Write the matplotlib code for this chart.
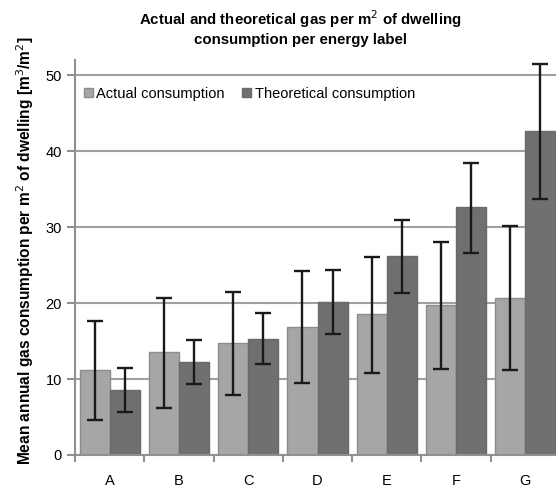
import numpy as np
import matplotlib
matplotlib.use("Agg")
import matplotlib.pyplot as plt

plt.rcParams['font.family'] = ['Liberation Sans', 'DejaVu Sans']

labels = ['A', 'B', 'C', 'D', 'E', 'F', 'G']
actual = [11.2, 13.5, 14.7, 16.9, 18.5, 19.8, 20.7]
actual_lo = [4.6, 6.2, 7.9, 9.5, 10.8, 11.3, 11.2]
actual_hi = [17.7, 20.7, 21.4, 24.2, 26.1, 28.1, 30.1]
theoretical = [8.6, 12.3, 15.3, 20.2, 26.2, 32.6, 42.7]
theo_lo = [5.7, 9.3, 12.0, 15.9, 21.3, 26.6, 33.7]
theo_hi = [11.4, 15.2, 18.7, 24.4, 30.9, 38.4, 51.5]

W, H = 556, 487
fig = plt.figure(figsize=(W / 100, H / 100), dpi=100)
# axes run slightly past the right edge, like the cropped original
ax = fig.add_axes([75 / W, 1 - 455 / H, (560 - 75) / W, (455 - 60) / H])

x = np.arange(len(labels))
bw = 0.435
a = np.array(actual)
t = np.array(theoretical)
err_a = [a - np.array(actual_lo), np.array(actual_hi) - a]
err_t = [t - np.array(theo_lo), np.array(theo_hi) - t]

ax.bar(x - bw / 2, a, bw, color='#a6a6a6', edgecolor='#8c8c8c', linewidth=1,
       label='Actual consumption', zorder=2)
ax.bar(x + bw / 2, t, bw, color='#707070', edgecolor='#6a6a6a', linewidth=1,
       label='Theoretical consumption', zorder=2)
ax.errorbar(x - bw / 2, a, yerr=err_a, fmt='none', ecolor='#1a1a1a',
            elinewidth=1.7, capsize=5.5, capthick=1.7, zorder=3)
ax.errorbar(x + bw / 2, t, yerr=err_t, fmt='none', ecolor='#1a1a1a',
            elinewidth=1.7, capsize=5.5, capthick=1.7, zorder=3)

ax.set_xlim(-0.5, len(labels) - 0.5)
ax.set_ylim(0, 52)
ax.set_yticks([0, 10, 20, 30, 40, 50])
ax.yaxis.grid(True, color='#a0a0a0', linewidth=1.5, zorder=0)
ax.set_axisbelow(True)

ax.set_xticks(x)
ax.set_xticklabels(labels)
ax.set_xticks(np.arange(len(labels) + 1) - 0.5, minor=True)
ax.tick_params(axis='x', which='major', length=0, pad=14, labelsize=10.5)
ax.tick_params(axis='x', which='minor', length=5, color='#909090', width=1.5)
ax.tick_params(axis='y', length=6, color='#909090', width=1.5, labelsize=10.5)

for side in ['top', 'right']:
    ax.spines[side].set_visible(False)
for side in ['left', 'bottom']:
    ax.spines[side].set_color('#909090')
    ax.spines[side].set_linewidth(1.5)

fig.text(25 / W, 1 - 251 / H,
         'Mean annual gas consumption per m$^2$ of dwelling [m$^3$/m$^2$]',
         rotation=90, ha='center', va='center', fontsize=11.2, fontweight='bold')
fig.text(300 / W, 1 - 28 / H,
         'Actual and theoretical gas per m$^2$ of dwelling\nconsumption per energy label',
         ha='center', va='center', fontsize=10.8, fontweight='bold', linespacing=1.25)

ax.legend(loc='upper left', bbox_to_anchor=(0.0, 0.955), ncol=2, frameon=False,
          fontsize=10.5, handlelength=0.6, handleheight=0.6, handletextpad=0.25,
          columnspacing=1.2, borderaxespad=0.2)

fig.savefig('out.png', dpi=100)
